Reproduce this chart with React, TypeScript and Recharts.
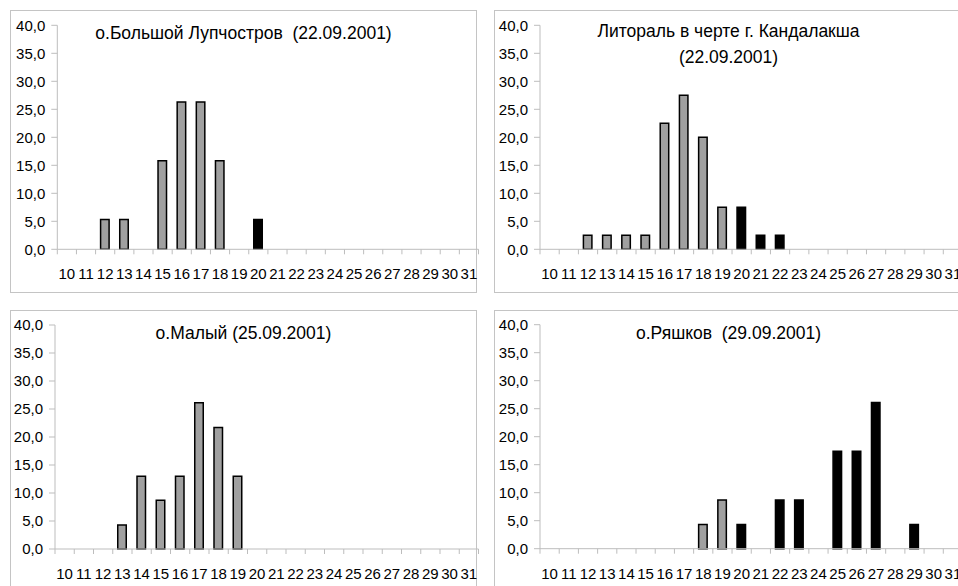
import React from "react"
import { BarChart, Bar, XAxis, YAxis } from "recharts"

const FONT = '"Liberation Sans", Arial, sans-serif'
const AXIS_GRAY = "#bdbdbd"
const GRAY_FILL = "#a0a0a0"

const categories = ["10", "11", "12", "13", "14", "15", "16", "17", "18", "19", "20",
  "21", "22", "23", "24", "25", "26", "27", "28", "29", "30", "31"]
const yTicks = [0, 5, 10, 15, 20, 25, 30, 35, 40]

// о.Большой Лупчостров
const lupGray = [null, null, 5.3, 5.3, null, 15.8, 26.3, 26.3, 15.8, null, null,
  null, null, null, null, null, null, null, null, null, null, null]
const lupBlack = [null, null, null, null, null, null, null, null, null, null, 5.3,
  null, null, null, null, null, null, null, null, null, null, null]

// Литораль в черте г. Кандалакша
const kanGray = [null, null, 2.5, 2.5, 2.5, 2.5, 22.5, 27.5, 20.0, 7.5, null,
  null, null, null, null, null, null, null, null, null, null, null]
const kanBlack = [null, null, null, null, null, null, null, null, null, null, 7.5,
  2.5, 2.5, null, null, null, null, null, null, null, null, null]

// о.Малый
const malGray = [null, null, null, 4.3, 13.0, 8.7, 13.0, 26.1, 21.7, 13.0, null,
  null, null, null, null, null, null, null, null, null, null, null]
const malBlack = [null, null, null, null, null, null, null, null, null, null, null,
  null, null, null, null, null, null, null, null, null, null, null]

// о.Ряшков
const ryaGray = [null, null, null, null, null, null, null, null, 4.3, 8.7, null,
  null, null, null, null, null, null, null, null, null, null, null]
const ryaBlack = [null, null, null, null, null, null, null, null, null, null, 4.3,
  null, 8.7, 8.7, null, 17.4, 17.4, 26.1, null, 4.3, null, null]

const fmt = (v: number) => v.toFixed(1).replace(".", ",")

function CatTick(props: any) {
  const { x, y, payload, index, visibleTicksCount } = props
  const half = payload && payload.offset ? payload.offset : 9.6
  const isLast = index === visibleTicksCount - 1
  return (
    <g>
      <line x1={x - half} x2={x - half} y1={y} y2={y + 5} stroke={AXIS_GRAY} />
      {isLast && <line x1={x + half} x2={x + half} y1={y} y2={y + 5} stroke={AXIS_GRAY} />}
      <text x={x} y={y + 30} textAnchor="middle" fontSize={15} fontFamily={FONT} fill="#000">
        {payload.value}
      </text>
    </g>
  )
}

function Panel({ left, top, yWidth, marginTop, gray, black, title }: any) {
  const data = categories.map((c, i) => ({ cat: c, gray: gray[i], black: black[i] }))
  return (
    <div style={{ position: "absolute", left, top }}>
      <BarChart width={480} height={282} data={data}
        margin={{ top: marginTop, right: 11.5, left: 0, bottom: 0 }}>
        <XAxis dataKey="cat" interval={0} height={282 - marginTop - 224}
          stroke={AXIS_GRAY} tickLine={false} tickSize={0} tickMargin={0}
          tick={<CatTick />} />
        <YAxis domain={[0, 40]} ticks={yTicks} width={yWidth} interval={0}
          stroke={AXIS_GRAY} tickSize={6} tickMargin={6} tickFormatter={fmt}
          tick={{ fontSize: 15, fontFamily: FONT, fill: "#000" }} />
        <Bar dataKey="gray" stackId="s" barSize={8.5} fill={GRAY_FILL}
          stroke="#000" strokeWidth={1.5} isAnimationActive={false} />
        <Bar dataKey="black" stackId="s" barSize={8.5} fill="#000"
          stroke="#000" strokeWidth={1.5} isAnimationActive={false} />
      </BarChart>
      {title}
    </div>
  )
}

const titleStyle: React.CSSProperties = {
  position: "absolute",
  left: 0,
  width: 467,
  textAlign: "center",
  fontFamily: FONT,
  fontSize: 17.5,
  lineHeight: "26px",
  color: "#000",
  whiteSpace: "pre",
}

const box = (left: number, top: number, width: number, height: number): React.CSSProperties => ({
  position: "absolute",
  left,
  top,
  width,
  height,
  border: "1px solid #c4c4c4",
  boxSizing: "border-box",
})

export default function App() {
  return (
    <div style={{ position: "absolute", left: 0, top: 0, width: 958, height: 586,
      background: "#fff", overflow: "hidden" }}>
      <div style={box(10, 10, 467, 283)} />
      <div style={box(494, 10, 469, 283)} />
      <div style={box(10, 310, 467, 300)} />
      <div style={box(494, 310, 469, 300)} />

      <Panel left={10} top={10} yWidth={47.3} marginTop={15.3} gray={lupGray} black={lupBlack}
        title={<div style={{ ...titleStyle, top: 10 }}>о.Большой Лупчостров  (22.09.2001)</div>} />
      <Panel left={494} top={10} yWidth={46} marginTop={15.3} gray={kanGray} black={kanBlack}
        title={<div style={{ ...titleStyle, width: 469, top: 8 }}>{"Литораль в черте г. Кандалакша\n(22.09.2001)"}</div>} />
      <Panel left={10} top={310} yWidth={45} marginTop={15} gray={malGray} black={malBlack}
        title={<div style={{ ...titleStyle, top: 10 }}>о.Малый (25.09.2001)</div>} />
      <Panel left={494} top={310} yWidth={46} marginTop={14.7} gray={ryaGray} black={ryaBlack}
        title={<div style={{ ...titleStyle, width: 469, top: 10 }}>о.Ряшков  (29.09.2001)</div>} />
    </div>
  )
}
